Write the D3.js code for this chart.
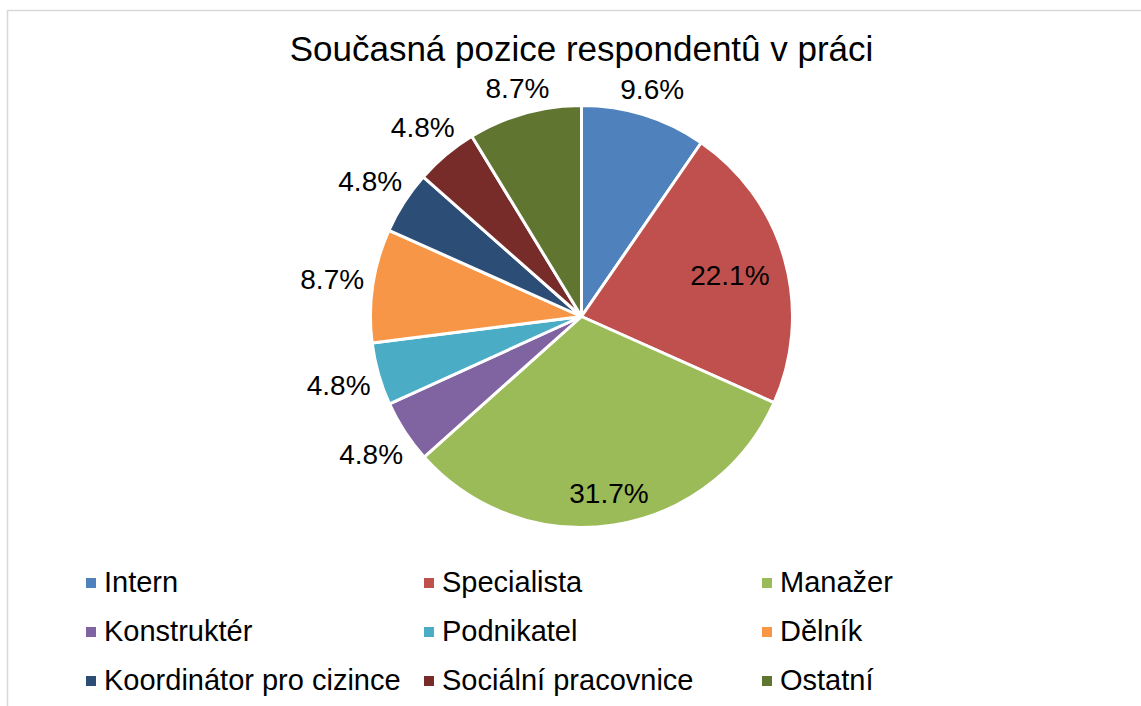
<!DOCTYPE html>
<html>
<head>
<meta charset="utf-8">
<script src="https://cdn.jsdelivr.net/npm/d3@7"></script>
<style>
  html, body { margin: 0; padding: 0; background: #fff; }
  svg { display: block; font-family: "Liberation Sans", Arial, sans-serif; }
</style>
</head>
<body>
<svg id="chart" width="1141" height="706"></svg>
<script>
const title = "Současná pozice respondentû v práci";
const categories = ["Intern", "Specialista", "Manažer", "Konstruktér", "Podnikatel", "Dělník", "Koordinátor pro cizince", "Sociální pracovnice", "Ostatní"];
const values = [9.6, 22.1, 31.7, 4.8, 4.8, 8.7, 4.8, 4.8, 8.7];
const colors = ["#4F81BD", "#C0504D", "#9BBB59", "#8064A2", "#4BACC6", "#F79646", "#2C4D75", "#772C2A", "#5F7530"];

const W = 1141, H = 706;
const svg = d3.select("#chart");

// chart area border (extends past right/bottom edges as in reference)
svg.append("rect")
  .attr("x", 7.5).attr("y", 10.5)
  .attr("width", W + 50).attr("height", H + 50)
  .attr("fill", "#fff").attr("stroke", "#D9D9D9").attr("stroke-width", 1.5);

// title
svg.append("text")
  .attr("x", 581.5).attr("y", 61)
  .attr("text-anchor", "middle")
  .attr("font-size", 35)
  .attr("fill", "#000")
  .text(title);

const cx = 581.5, cy = 316.5, R = 211;
const g = svg.append("g").attr("transform", `translate(${cx},${cy})`);

const pie = d3.pie().sort(null).value(d => d.v);
const data = categories.map((c, i) => ({ c, v: values[i], col: colors[i] }));
const arcs = pie(data);
const arc = d3.arc().innerRadius(0).outerRadius(R);

g.selectAll("path.slice").data(arcs).enter().append("path")
  .attr("class", "slice")
  .attr("d", arc)
  .attr("fill", d => d.data.col)
  .attr("stroke", "#fff")
  .attr("stroke-width", 3)
  .attr("stroke-linejoin", "round");

// data labels (best-fit style: big slices inside, small outside)
const fmt = d3.format(".1f");
const labelFs = 28;
const labels = g.selectAll("text.lbl").data(arcs).enter().append("text")
  .attr("class", "lbl")
  .attr("font-size", labelFs)
  .attr("fill", "#000")
  .attr("text-anchor", "middle")
  .text(d => fmt(d.data.v) + "%");

labels.each(function(d) {
  const w = this.getComputedTextLength();
  const h = labelFs * 0.716;
  const a = (d.startAngle + d.endAngle) / 2;
  const sx = Math.sin(a), sy = -Math.cos(a);
  const ext = Math.abs(sx) * w / 2 + Math.abs(sy) * h / 2;
  const inside = d.data.v > 15;
  const r = inside ? R - 16 - ext : R + 8 + ext;
  d3.select(this)
    .attr("x", r * sx)
    .attr("y", r * sy + h / 2);
});

// legend
const legend = svg.append("g");
const colX = [86, 424, 762];
const rowY = [592, 641, 690];
const legendFs = 29;
data.forEach((d, i) => {
  const col = i % 3, row = Math.floor(i / 3);
  const item = legend.append("g").attr("transform", `translate(${colX[col]},${rowY[row]})`);
  item.append("rect")
    .attr("x", 0).attr("y", -14)
    .attr("width", 10).attr("height", 10)
    .attr("fill", d.col);
  item.append("text")
    .attr("x", 18).attr("y", 0)
    .attr("font-size", legendFs)
    .attr("fill", "#000")
    .text(d.c);
});
</script>
</body>
</html>
